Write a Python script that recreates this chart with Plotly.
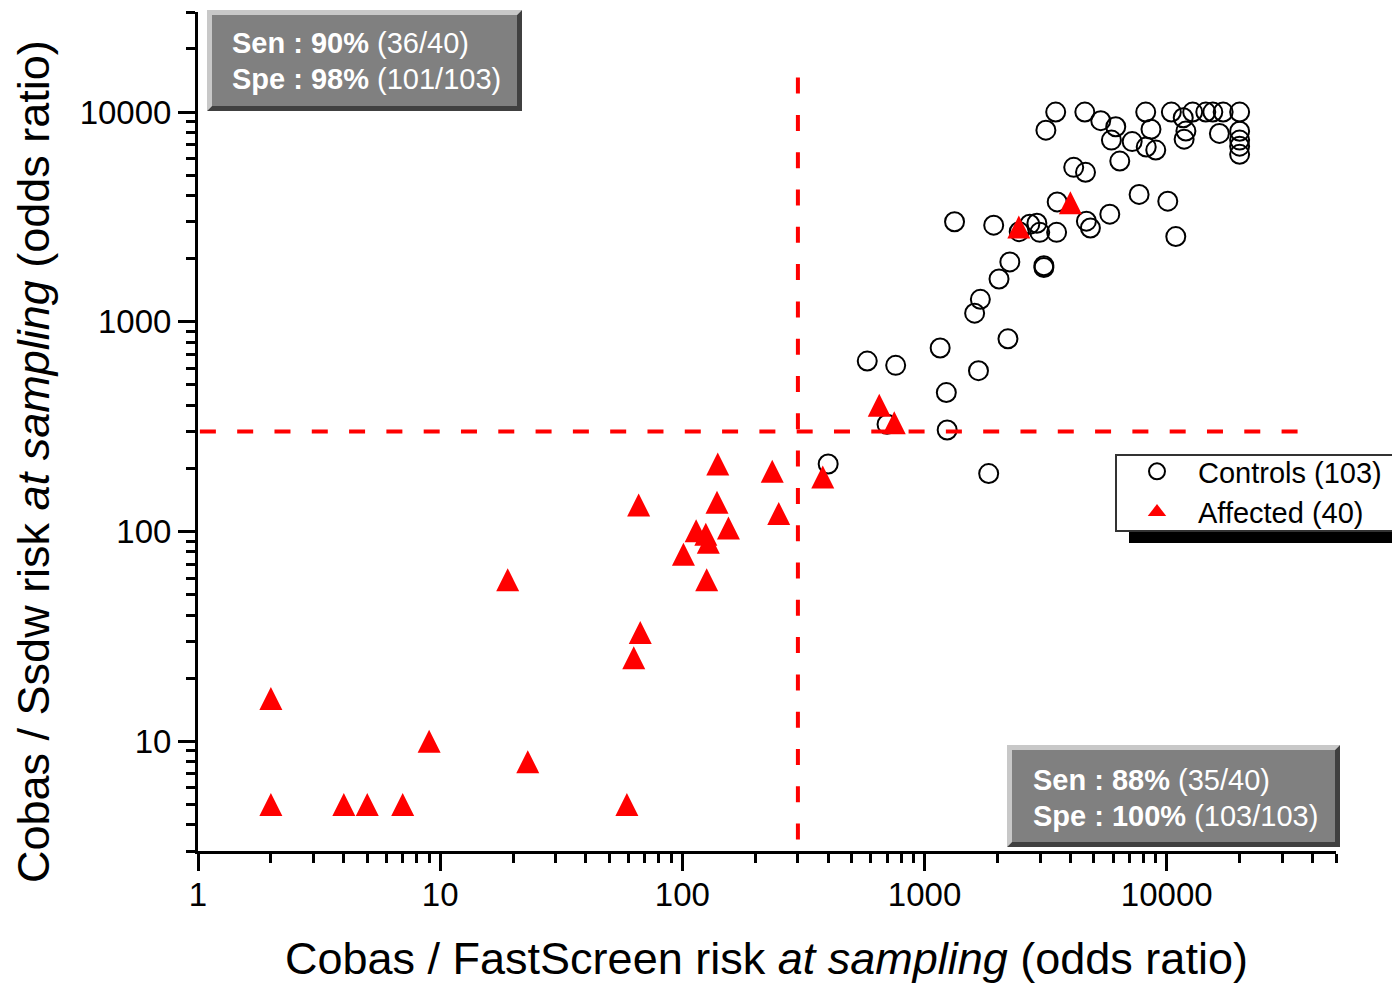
import math
import plotly.graph_objects as go

# ---------------- data (odds ratios) ----------------
controls_fastscreen = [400, 580, 760, 700, 1160, 1230, 1240, 1330, 1610, 1670,
                       1700, 1840, 1930, 2030, 2210, 2250, 2460, 2720, 2910, 2990,
                       3110, 3110, 3170, 3480, 3510, 3530, 4130, 4620, 4660, 4840,
                       4590, 5340, 5820, 5910, 6160, 6400, 7200, 7690, 8190, 8230,
                       8610, 9010, 10100, 10450, 10900, 11700, 11800, 12000, 12800, 14500,
                       15500, 16500, 17100, 20000, 20000, 20000, 20000, 20000]
controls_ssdw = [210, 650, 620, 325, 750, 460, 305, 3000, 1100, 585,
                 1280, 189, 2890, 1600, 830, 1930, 2690, 2920, 2950, 2670,
                 1850, 1815, 8200, 10000, 2670, 3730, 5450, 5160, 3020, 2800,
                 10000, 9100, 3260, 7350, 8510, 5840, 7230, 4050, 10000, 6810,
                 8280, 6590, 3760, 10000, 2550, 9400, 7430, 8120, 10000, 10000,
                 10000, 7910, 10000, 10000, 8100, 7350, 6880, 6290]

affected_fastscreen = [140, 235, 380, 66, 139, 250, 114, 125, 128, 155,
                       101, 126, 19, 67, 63, 2, 9, 23, 2, 4,
                       5, 7, 59, 650, 750, 2450, 4000]
affected_ssdw = [210, 194, 182, 134, 138, 122, 101, 97, 89, 104,
                 78, 59, 59, 33, 25, 16, 10, 8, 5, 5,
                 5, 5, 5, 400, 330, 2830, 3700]

cutoff = 300
cutoff_h_x = [34700, 1]      # horizontal cutoff line extent (drawn right to left)
cutoff_v_y = [14600, 3]      # vertical cutoff line extent (drawn top to bottom)

x_tickvals = [1, 10, 100, 1000, 10000]
x_ticktext = ["1", "10", "100", "1000", "10000"]
y_tickvals = [10, 100, 1000, 10000]
y_ticktext = ["10", "100", "1000", "10000"]
x_range = [1, 50000]
y_range = [3, 30000]

legend_names = ["Controls (103)", "Affected (40)"]
box1_lines = ["<b>Sen : 90%</b> (36/40)", "<b>Spe : 98%</b> (101/103)"]
box2_lines = ["<b>Sen : 88%</b> (35/40)", "<b>Spe : 100%</b> (103/103)"]
x_title = "Cobas / FastScreen risk <i>at sampling</i> (odds ratio)"
y_title = "Cobas / Ssdw risk <i>at sampling</i> (odds ratio)"

# ---------------- layout helpers ----------------
W, H = 1392, 983
L, R, T, B = 198, 1336, 12, 851
FONT = "Liberation Sans, Arial, sans-serif"


def fx(p):
    return (p - L) / (R - L)


def fy(p):
    return (B - p) / (B - T)


xminor = [m * 10 ** d for d in range(0, 5) for m in range(2, 10) if m * 10 ** d <= x_range[1]]
yminor = [m * 10 ** d for d in range(0, 5) for m in range(2, 10)
          if y_range[0] <= m * 10 ** d <= y_range[1]]

fig = go.Figure()

fig.add_trace(go.Scatter(
    x=controls_fastscreen, y=controls_ssdw, mode="markers", name=legend_names[0],
    marker=dict(symbol="circle-open", size=19, color="black",
                line=dict(width=2, color="black")),
))

dash_style = "16px,21.3px"
fig.add_trace(go.Scatter(
    x=cutoff_h_x, y=[cutoff, cutoff], mode="lines", showlegend=False,
    line=dict(color="#ff0000", width=4, dash=dash_style), hoverinfo="skip",
))
fig.add_trace(go.Scatter(
    x=[cutoff, cutoff], y=cutoff_v_y, mode="lines", showlegend=False,
    line=dict(color="#ff0000", width=4, dash=dash_style), hoverinfo="skip",
))

# affected: near-equilateral triangles centred on the data points
fig.add_trace(go.Scatter(
    x=affected_fastscreen, y=affected_ssdw, mode="markers", name=legend_names[1],
    showlegend=False,
    marker=dict(symbol="arrow-down", angle=180, standoff=11.5, size=23,
                color="#ff0000", line=dict(width=0)),
))
# legend entry for the affected series
fig.add_trace(go.Scatter(
    x=[None], y=[None], mode="markers", name=legend_names[1],
    marker=dict(symbol="triangle-up", size=22, color="#ff0000", line=dict(width=0)),
))

axis_common = dict(
    type="log", showline=True, linewidth=3, linecolor="black", mirror=False,
    showgrid=False, zeroline=False, ticks="outside", ticklen=17, tickwidth=3,
    tickcolor="black", tickfont=dict(family=FONT, size=33, color="black"),
    tickmode="array",
)

fig.update_xaxes(
    **axis_common,
    range=[math.log10(x_range[0]), math.log10(x_range[1])],
    tickvals=x_tickvals, ticktext=x_ticktext, ticklabelstandoff=-5,
    minor=dict(tickvals=xminor, ticks="outside", ticklen=9, tickwidth=3,
               tickcolor="black", showgrid=False),
)
fig.update_yaxes(
    **axis_common,
    range=[math.log10(y_range[0]), math.log10(y_range[1])],
    tickvals=y_tickvals, ticktext=y_ticktext,
    minor=dict(tickvals=yminor, ticks="outside", ticklen=9, tickwidth=3,
               tickcolor="black", showgrid=False),
)

shapes = []


def bevel_box(x0, y0, x1, y1, b=5):
    X0, X1 = fx(x0), fx(x1)
    Y0, Y1 = fy(y0), fy(y1)
    bx = b / (R - L)
    by = b / (B - T)
    light = (f"M{X0},{Y0} L{X1},{Y0} L{X1 - bx},{Y0 - by} L{X0 + bx},{Y0 - by} "
             f"L{X0 + bx},{Y1 + by} L{X0},{Y1} Z")
    dark = (f"M{X1},{Y0} L{X1},{Y1} L{X0},{Y1} L{X0 + bx},{Y1 + by} "
            f"L{X1 - bx},{Y1 + by} L{X1 - bx},{Y0 - by} Z")
    return [
        dict(type="path", xref="paper", yref="paper", path=light,
             fillcolor="#c8c8c8", line=dict(width=0), layer="above"),
        dict(type="path", xref="paper", yref="paper", path=dark,
             fillcolor="#404040", line=dict(width=0), layer="above"),
        dict(type="rect", xref="paper", yref="paper", x0=X0 + bx, x1=X1 - bx,
             y0=Y0 - by, y1=Y1 + by, fillcolor="#808080", line=dict(width=0),
             layer="above"),
    ]


shapes += bevel_box(207, 10, 522, 111)
shapes += bevel_box(1007, 745, 1340, 847)

# legend frame and its shadow
shapes.append(dict(type="rect", xref="paper", yref="paper", x0=fx(1129), x1=fx(1400),
                   y0=fy(543), y1=fy(531), fillcolor="black", line=dict(width=0),
                   layer="above"))
shapes.append(dict(type="rect", xref="paper", yref="paper", x0=fx(1116), x1=fx(1410),
                   y0=fy(531), y1=fy(455), fillcolor="white",
                   line=dict(width=2, color="#333333"), layer="above"))

annotations = []
for txt, yy in zip(box1_lines, [43, 79]):
    annotations.append(dict(xref="paper", yref="paper", x=fx(230), y=fy(yy),
                            xanchor="left", yanchor="middle", showarrow=False,
                            text=txt, font=dict(family=FONT, size=29, color="white")))
for txt, yy in zip(box2_lines, [780, 816]):
    annotations.append(dict(xref="paper", yref="paper", x=fx(1031), y=fy(yy),
                            xanchor="left", yanchor="middle", showarrow=False,
                            text=txt, font=dict(family=FONT, size=29, color="white")))
annotations.append(dict(xref="paper", yref="paper", x=fx(766), y=fy(958),
                        xanchor="center", yanchor="middle", showarrow=False,
                        text=x_title, font=dict(family=FONT, size=45, color="black")))
annotations.append(dict(xref="paper", yref="paper", x=fx(33), y=fy(462),
                        xanchor="center", yanchor="middle", showarrow=False,
                        textangle=-90,
                        text=y_title, font=dict(family=FONT, size=45, color="black")))

fig.update_layout(
    width=W, height=H,
    margin=dict(l=L, r=W - R, t=T, b=H - B, autoexpand=False),
    paper_bgcolor="white", plot_bgcolor="white",
    font=dict(family=FONT, color="black"),
    showlegend=True,
    legend=dict(x=fx(1116), y=fy(446), xanchor="left", yanchor="top",
                bgcolor="rgba(0,0,0,0)", borderwidth=0,
                font=dict(family=FONT, size=29, color="black"),
                itemwidth=72, tracegroupgap=0, traceorder="normal"),
    shapes=shapes,
    annotations=annotations,
)

fig.write_html("out.html")
